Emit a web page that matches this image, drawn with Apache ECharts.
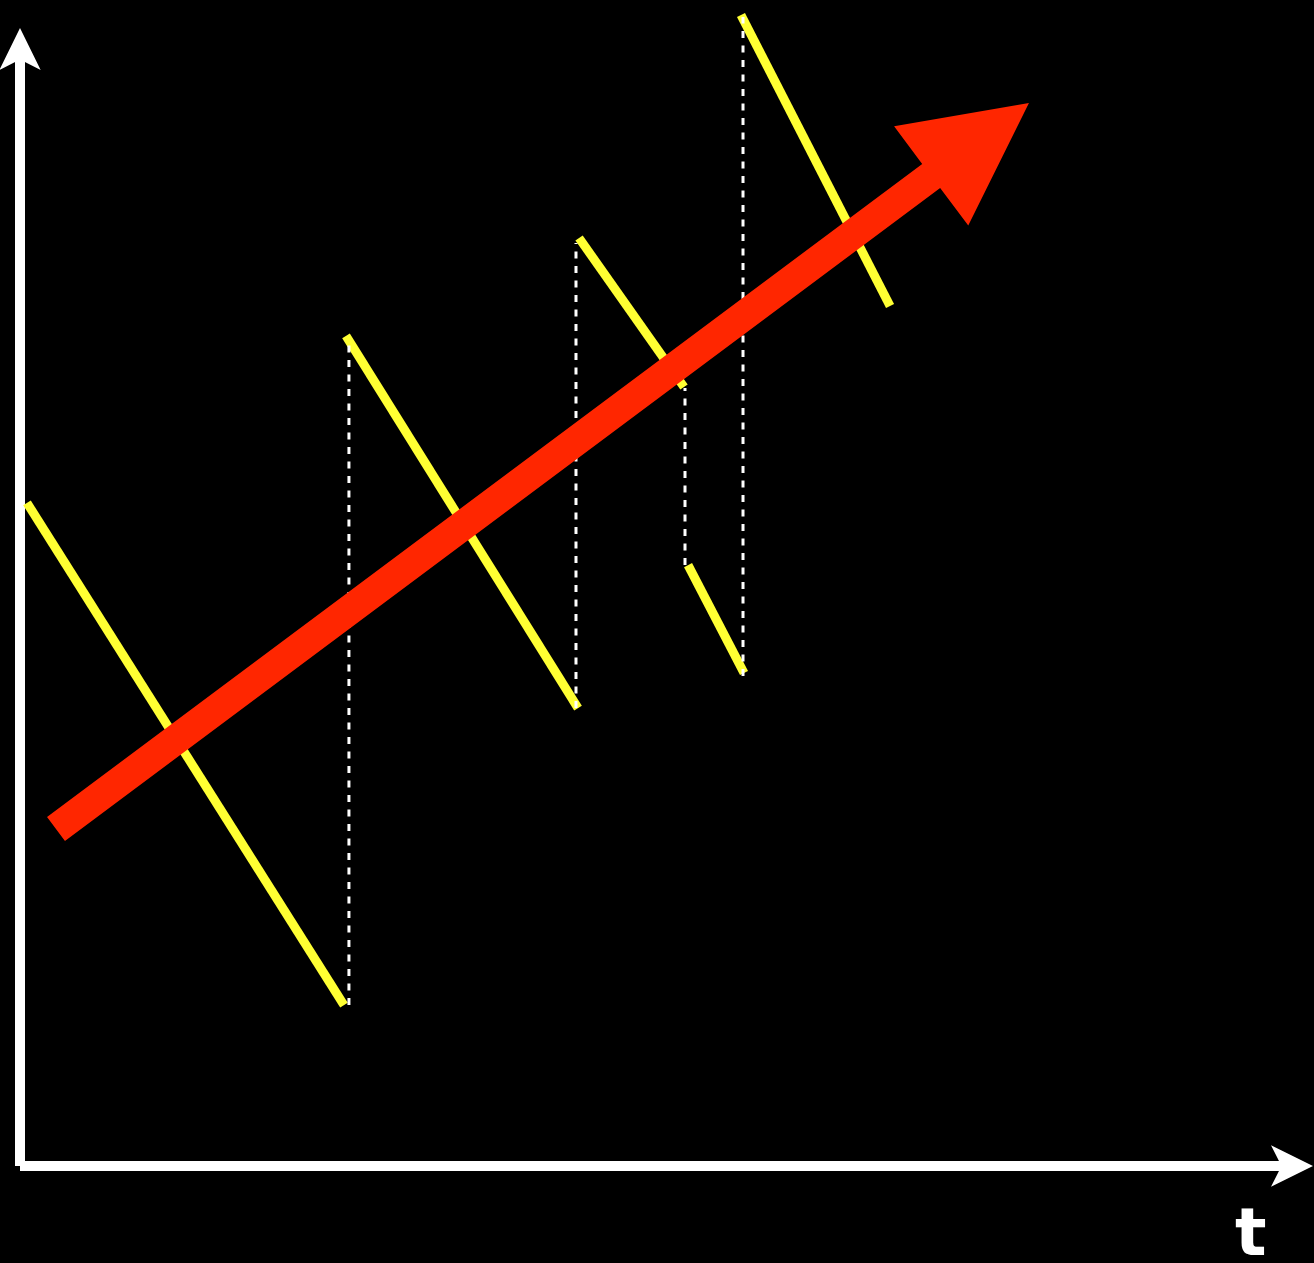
<!DOCTYPE html>
<html>
<head>
<meta charset="utf-8">
<script src="https://cdn.jsdelivr.net/npm/echarts@6/dist/echarts.min.js"></script>
<style>
  html, body { margin: 0; padding: 0; background: #000; }
  #chart { width: 1314px; height: 1263px; }
</style>
</head>
<body>
<div id="chart"></div>
<script>
// Sawtooth segments (each falls, then jumps up) in axis units (0-100)
const segmentStarts = [[0.55, 59.36], [25.63, 74.31], [43.95, 83.08], [52.52, 53.80], [56.68, 103.04]];
const segmentEnds   = [[25.47, 14.41], [43.87, 41.00], [52.20, 69.74], [56.92, 44.14], [68.40, 76.99]];

// Vertical dotted jump markers: x, low y, high y
const jumpX    = [25.86, 43.71, 52.28, 56.84];
const jumpLow  = [14.41, 41.00, 53.80, 43.87];
const jumpHigh = [74.13, 82.63, 69.65, 102.86];

// Trend arrow: start and tip
const trendStart = [2.83, 30.17];
const trendEnd   = [79.32, 95.17];

const axisName = 't';

const chart = echarts.init(document.getElementById('chart'), null, { renderer: 'canvas' });

const series = [];
segmentStarts.forEach((s, i) => {
  series.push({
    type: 'line',
    data: [s, segmentEnds[i]],
    showSymbol: false,
    symbol: 'none',
    clip: false,
    z: 2,
    lineStyle: { color: '#ffff33', width: 9, cap: 'butt' },
    silent: true
  });
});
jumpX.forEach((x, i) => {
  series.push({
    type: 'line',
    data: [[x, jumpLow[i]], [x, jumpHigh[i]]],
    symbol: 'none',
    clip: false,
    z: 3,
    lineStyle: { color: '#ffffff', width: 3, type: [7, 7.5] },
    silent: true
  });
});
series.push({
  type: 'custom',
  z: 5,
  silent: true,
  data: [[trendStart[0], trendStart[1], trendEnd[0], trendEnd[1]]],
  renderItem: function (params, api) {
    const p0 = api.coord([api.value(0), api.value(1)]);
    const p1 = api.coord([api.value(2), api.value(3)]);
    const dx = p1[0] - p0[0], dy = p1[1] - p0[1];
    const L = Math.hypot(dx, dy);
    const ux = dx / L, uy = dy / L;
    const nx = -uy, ny = ux;
    const hw = 15, headLen = 122, headHalf = 62;
    const b = [p1[0] - ux * headLen, p1[1] - uy * headLen];
    const pts = [
      [p0[0] + nx * hw, p0[1] + ny * hw],
      [b[0] + nx * hw, b[1] + ny * hw],
      [b[0] + nx * headHalf, b[1] + ny * headHalf],
      [p1[0], p1[1]],
      [b[0] - nx * headHalf, b[1] - ny * headHalf],
      [b[0] - nx * hw, b[1] - ny * hw],
      [p0[0] - nx * hw, p0[1] - ny * hw]
    ];
    return { type: 'polygon', shape: { points: pts }, style: { fill: '#ff2600' } };
  }
});

const axisCommon = {
  type: 'value',
  min: 0,
  max: 100,
  axisLine: {
    show: true,
    symbol: ['none', 'arrow'],
    symbolSize: [31, 42],
    symbolOffset: [0, 21],
    lineStyle: { color: '#ffffff', width: 10, cap: 'butt' }
  },
  axisTick: { show: false },
  axisLabel: { show: false },
  splitLine: { show: false }
};

chart.setOption({
  backgroundColor: '#000000',
  animation: false,
  grid: { left: 20, right: 22, top: 49, bottom: 97 },
  xAxis: Object.assign({}, axisCommon),
  yAxis: Object.assign({}, axisCommon),
  graphic: [{
    type: 'text',
    left: 1235,
    top: 1205,
    style: {
      text: axisName,
      fill: '#ffffff',
      font: 'bold 66px "DejaVu Sans"'
    }
  }],
  series: series
});
</script>
</body>
</html>
